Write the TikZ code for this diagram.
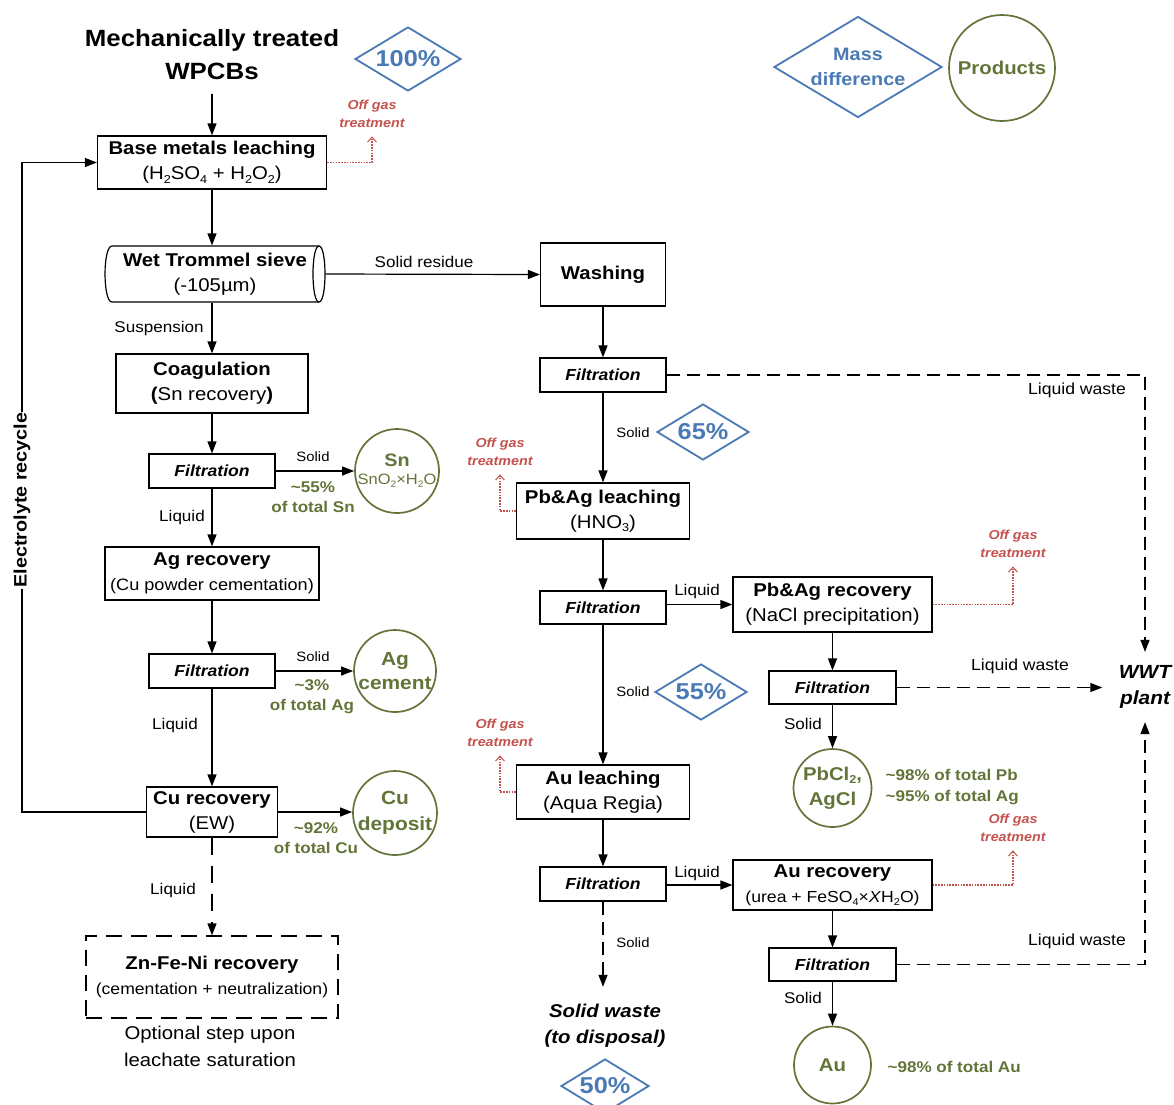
\documentclass[tikz,border=0pt]{standalone}
\usepackage{fontspec}
\setmainfont{Liberation Sans}[FakeStretch=1.1]
\usetikzlibrary{arrows.meta,shapes.geometric,calc}
\definecolor{mblue}{RGB}{74,122,181}
\definecolor{mgreen}{RGB}{98,116,56}
\definecolor{mred}{RGB}{196,82,78}
\newcommand\mysub[1]{\raisebox{-0.35ex}{\scalebox{0.62}{#1}}}
\newcommand\myfs[2]{\fontsize{#1}{#2}\selectfont}
\tikzset{
 proc/.style={draw, line width=1.2pt, align=center, inner sep=0pt, font=\myfs{18.5}{25}},
 filt/.style={draw, line width=1.2pt, inner sep=0pt, minimum width=126pt, minimum height=34pt, font=\myfs{16}{19}\bfseries\itshape},
 arr/.style={-{Triangle[length=12pt,width=9pt]}},
 dsh/.style={dash pattern=on 13pt off 7pt},
 ogl/.style={text=mred, font=\myfs{13}{18}\bfseries\itshape, align=center, inner xsep=1pt, inner ysep=8pt},
 ogp/.style={draw=mred, line width=1.1pt, dash pattern=on 1.6pt off 1.2pt, -{Straight Barb[length=5pt,width=9pt,line width=1pt]}},
 lbl/.style={font=\myfs{15.5}{18}, inner sep=0pt},
 slbl/.style={font=\myfs{13.5}{16}, inner sep=0pt},
 gtxt/.style={text=mgreen, font=\myfs{15.5}{20}\bfseries, align=center, inner sep=0pt},
 prod/.style={circle, draw=mgreen, line width=1.7pt, inner sep=0pt},
 ptxt/.style={text=mgreen, font=\myfs{19}{24}\bfseries, align=center, inner sep=0pt},
 mdia/.style={diamond, draw=mblue, line width=1.8pt, inner sep=0pt},
 dtxt/.style={text=mblue, font=\myfs{23}{26}\bfseries, inner sep=0pt}
}
\begin{document}
\begin{tikzpicture}[x=1pt,y=-1pt,line width=1.2pt]
\useasboundingbox (0,0) rectangle (1174,1104);

% legend
\node[mdia, minimum width=168pt, minimum height=101pt] (legd) at (858,67) {};
\node[text=mblue, font=\myfs{18}{25}\bfseries, align=center] at (legd) {Mass\\difference};
\node[prod, minimum size=106pt] (legp) at (1002,68) {};
\node[ptxt, font=\myfs{18.5}{22}\bfseries] at (legp) {Products};

% title
\node[font=\myfs{23.5}{33}\bfseries, align=center, inner sep=13pt] (title) at (212,55) {Mechanically treated\\WPCBs};
\node[mdia, minimum width=106pt, minimum height=64pt] (d100) at (408,59) {};
\node[dtxt] at (d100) {100\%};

% base metals leaching
\node[proc, minimum width=229pt, minimum height=53pt] (base) at (212,162.5) {{\bfseries Base metals leaching}\\(H\mysub{2}SO\mysub{4} + H\mysub{2}O\mysub{2})};
\draw[arr] (title.south) -- (base.north);
\node[ogl] (og1) at (372,114) {Off gas\\treatment};
\draw[ogp] (base.east) -| (og1.south);

% trommel
\node[minimum width=220pt, minimum height=56pt, inner sep=0pt, align=center, font=\myfs{18.5}{25}] (trom) at (215,274) {{\bfseries Wet Trommel sieve}\\(-105µm)};
\draw (112,246) -- (319,246) .. controls (327,246) and (327,302) .. (319,302) -- (112,302) .. controls (102.7,302) and (102.7,246) .. (112,246);
\draw (319,246) .. controls (311,246) and (311,302) .. (319,302);
\draw[arr] (base.south) -- (base.south |- trom.north);

% washing
\node[proc, minimum width=125pt, minimum height=63pt, font=\myfs{18.5}{25}\bfseries] (wash) at (603,274.5) {Washing};
\draw[arr] (trom.east) -- (wash.west);
\node[lbl] at (424,262) {Solid residue};

% coagulation
\node[proc, minimum width=192pt, minimum height=59pt] (coag) at (212,383.5) {{\bfseries Coagulation}\\{\bfseries(}Sn recovery{\bfseries)}};
\draw[arr] (trom.south -| coag.north) -- (coag.north);
\node[lbl] at (159,328) {Suspension};

% filtration 1
\node[filt] (f1) at (212,471) {Filtration};
\draw[arr] (coag.south) -- (f1.north);
\node[prod, minimum size=84pt] (sn) at (397,471) {};
\draw[arr] (f1.east) -- (sn.west);
\node[slbl] at (313,457) {Solid};
\node[gtxt] at (313,497) {\textasciitilde55\%\\of total Sn};
\node[ptxt, font=\myfs{18}{20}\bfseries] at (397,460) {Sn};
\node[ptxt, font=\myfs{15}{18}\mdseries] at (397,481) {SnO\mysub{2}×H\mysub{2}O};

% Ag recovery
\node[proc, minimum width=214pt, minimum height=53pt] (agr) at (212,573.5) {{\bfseries Ag recovery}\\{\myfs{16.5}{25}(Cu powder cementation)}};
\draw[arr] (f1.south) -- (agr.north);
\node[lbl] at (182,517) {Liquid};

% filtration 2
\node[filt] (f2) at (212,671) {Filtration};
\draw[arr] (agr.south) -- (f2.north);
\node[prod, minimum size=82pt] (agc) at (395,671) {};
\draw[arr] (f2.east) -- (agc.west);
\node[slbl] at (313,657) {Solid};
\node[gtxt] at (312,697) {\textasciitilde3\%\\of total Ag};
\node[ptxt] at (agc) {Ag\\cement};
\node[lbl] at (175,725) {Liquid};

% Cu recovery
\node[proc, minimum width=131pt, minimum height=50pt] (cur) at (212,812) {{\bfseries Cu recovery}\\(EW)};
\draw[arr] (f2.south) -- (cur.north);
\node[prod, minimum size=84pt] (cuc) at (395,813) {};
\draw[arr] (cur.east) -- (cur.east -| cuc.west);
\node[ptxt, font=\myfs{19}{26}\bfseries] at (cuc) {Cu\\deposit};
\node[gtxt] at (316,838) {\textasciitilde92\%\\of total Cu};

% electrolyte recycle
\coordinate (rec) at (22,500);
\draw[arr] (cur.west) -- (cur.west -| rec) -- (base.west -| rec) -- (base.west);
\node[rotate=90, fill=white, font=\myfs{18}{20}\bfseries, inner sep=1pt] at (rec) {Electrolyte recycle};

% Zn-Fe-Ni
\node[proc, dash pattern=on 16pt off 9pt, minimum width=252pt, minimum height=82pt] (zn) at (212,977) {{\bfseries Zn-Fe-Ni recovery}\\{\myfs{16}{25}(cementation + neutralization)}};
\draw[arr, dash pattern=on 17pt off 11pt] (cur.south) -- (zn.north);
\node[lbl] at (173,890) {Liquid};
\node[align=center, font=\myfs{18.5}{27}] at (210,1046) {Optional step upon\\leachate saturation};

% middle column
\node[filt] (f3) at (603,375) {Filtration};
\draw[arr] (wash.south) -- (f3.north);
\node[proc, minimum width=173pt, minimum height=56pt] (pbl) at (603,511) {{\bfseries Pb\&Ag leaching}\\(HNO\mysub{3})};
\draw[arr] (f3.south) -- (pbl.north);
\node[slbl] at (633,433) {Solid};
\node[mdia, minimum width=92pt, minimum height=56pt] (d65) at (703,432) {};
\node[dtxt] at (d65) {65\%};
\node[ogl] (og2) at (500,452) {Off gas\\treatment};
\draw[ogp] (pbl.west) -| (og2.south);

\node[filt, minimum height=33pt] (f4) at (603,607.5) {Filtration};
\draw[arr] (pbl.south) -- (f4.north);
\node[proc, minimum width=199pt, minimum height=55pt] (pbr) at (832.5,604.5) {{\bfseries Pb\&Ag recovery}\\(NaCl precipitation)};
\draw[arr] (pbr.west -| f4.east) -- (pbr.west);
\node[lbl] at (697,591) {Liquid};
\node[ogl] (og3) at (1013,544) {Off gas\\treatment};
\draw[ogp] (pbr.east) -| (og3.south);

\node[filt, minimum width=127pt, minimum height=33pt] (f5) at (832.5,687.5) {Filtration};
\draw[arr] (pbr.south) -- (f5.north);
\node[font=\myfs{19}{26}\bfseries\itshape, align=center, inner xsep=16pt, inner ysep=13pt] (wwt) at (1145,687) {WWT\\plant};
\draw[arr, dsh] (f5.east) -- (f5.east -| wwt.west);
\node[lbl, font=\myfs{16}{18}] at (1020,666) {Liquid waste};
\draw[arr, dsh] (f3.east) -| (wwt.north);
\node[lbl, font=\myfs{16}{18}] at (1077,390) {Liquid waste};

\node[lbl] at (803,724) {Solid};
\node[prod, minimum size=78pt] (pbc) at (832.5,788) {};
\draw[arr] (f5.south) -- (pbc.north);
\node[ptxt, font=\myfs{18.5}{25}\bfseries] at (pbc) {PbCl\mysub{2},\\AgCl};
\node[gtxt, align=left, anchor=west, font=\myfs{15.5}{21}\bfseries] at (885,787) {\textasciitilde98\% of total Pb\\\textasciitilde95\% of total Ag};

\node[slbl] at (633,692) {Solid};
\node[mdia, minimum width=92pt, minimum height=56pt] (d55) at (701,692) {};
\node[dtxt] at (d55) {55\%};
\node[proc, minimum width=173pt, minimum height=54pt] (aul) at (603,792) {{\bfseries Au leaching}\\(Aqua Regia)};
\draw[arr] (f4.south) -- (aul.north);
\node[ogl] (og4) at (500,733) {Off gas\\treatment};
\draw[ogp] (aul.west) -| (og4.south);

\node[filt] (f6) at (603,884) {Filtration};
\draw[arr] (aul.south) -- (f6.north);
\node[proc, minimum width=199pt, minimum height=50pt] (aur) at (832.5,885) {{\bfseries Au recovery}\\{\myfs{16}{25}(urea + FeSO\mysub{4}×\textit{X}H\mysub{2}O)}};
\draw[arr] (aur.west -| f6.east) -- (aur.west);
\node[lbl] at (697,873) {Liquid};
\node[ogl] (og5) at (1013,828) {Off gas\\treatment};
\draw[ogp] (aur.east) -| (og5.south);

\node[filt, minimum width=127pt, minimum height=33pt] (f7) at (832.5,964.5) {Filtration};
\draw[arr] (aur.south) -- (f7.north);
\draw[arr, dsh] (f7.east) -| (wwt.south);
\node[lbl, font=\myfs{16}{18}] at (1077,941) {Liquid waste};
\node[lbl] at (803,998) {Solid};
\node[prod, minimum size=77pt] (auc) at (832.5,1065) {};
\draw[arr] (f7.south) -- (auc.north);
\node[ptxt, font=\myfs{18.5}{22}\bfseries] at (auc) {Au};
\node[gtxt, anchor=west] at (887,1067) {\textasciitilde98\% of total Au};

\node[font=\myfs{18.5}{26}\bfseries\itshape, align=center, inner ysep=17pt] (sw) at (605,1026) {Solid waste\\(to disposal)};
\draw[arr, dsh] (f6.south) -- (f6.south |- sw.north);
\node[slbl] at (633,943) {Solid};
\node[mdia, minimum width=88pt, minimum height=54pt] (d50) at (605,1086) {};
\node[dtxt] at (d50) {50\%};
\end{tikzpicture}
\end{document}
